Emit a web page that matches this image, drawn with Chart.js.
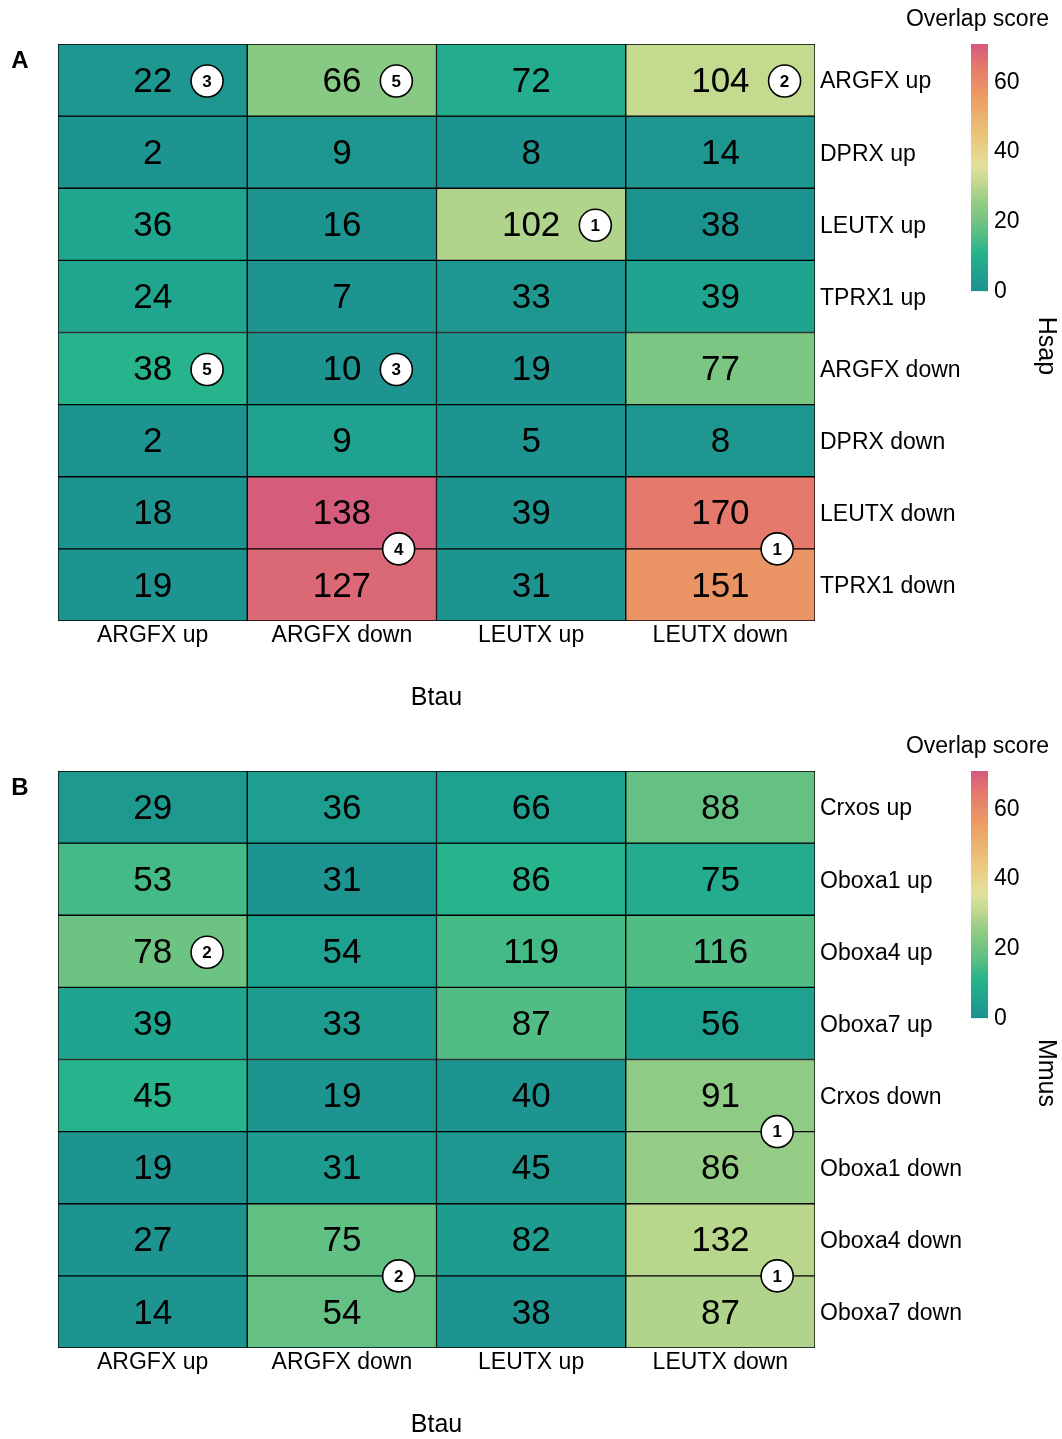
<!DOCTYPE html>
<html>
<head>
<meta charset="utf-8">
<title>Overlap of regulated genes: Btau vs Hsap / Mmus</title>
<script src="https://cdn.jsdelivr.net/npm/chart.js@4.4.1/dist/chart.umd.min.js"></script>
<style>
  html, body { margin: 0; padding: 0; background: #fff; overflow: hidden; }
  #page { position: relative; width: 1062px; height: 1439px; overflow: hidden; }
  #page canvas { position: absolute; }
</style>
</head>
<body>
<div id="page">
  <canvas id="heatA" width="1062" height="713" style="left:0;top:0"></canvas>
  <canvas id="barA" width="162" height="311" style="left:900px;top:0"></canvas>
  <canvas id="heatB" width="1062" height="713" style="left:0;top:727px"></canvas>
  <canvas id="barB" width="162" height="311" style="left:900px;top:727px"></canvas>
</div>
<script>
const FONT = '"Liberation Sans", Arial, Helvetica, sans-serif';
Chart.defaults.font.family = FONT;
Chart.defaults.color = '#000';

// Btau gene sets (columns, shared by both panels)
const btauCols = ['ARGFX up', 'ARGFX down', 'LEUTX up', 'LEUTX down'];

// Panel A: Hsap gene sets (rows)
const hsapRows = ['ARGFX up', 'DPRX up', 'LEUTX up', 'TPRX1 up',
                  'ARGFX down', 'DPRX down', 'LEUTX down', 'TPRX1 down'];
// number of shared genes in each cell
const hsapCounts = [
  [22, 66, 72, 104],
  [2, 9, 8, 14],
  [36, 16, 102, 38],
  [24, 7, 33, 39],
  [38, 10, 19, 77],
  [2, 9, 5, 8],
  [18, 138, 39, 170],
  [19, 127, 31, 151]
];
// overlap score of each cell (fill colour)
const hsapScores = [
  [2, 23.5, 8.5, 31.5],
  [1, 2, 1, 2],
  [6.5, 1, 29, 0.5],
  [6.5, 1, 2, 6],
  [11, 1, 1, 21.5],
  [1, 5.5, 1, 2],
  [1, 70.5, 1, 64.5],
  [1, 68, 1, 58]
];
// ranked cells; span 2 marks a rank shared by a row and the row below it
const hsapRanks = [
  { row: 0, col: 0, rank: 3 },
  { row: 0, col: 1, rank: 5 },
  { row: 0, col: 3, rank: 2 },
  { row: 2, col: 2, rank: 1 },
  { row: 4, col: 0, rank: 5 },
  { row: 4, col: 1, rank: 3 },
  { row: 6, col: 1, rank: 4, span: 2 },
  { row: 6, col: 3, rank: 1, span: 2 }
];

// Panel B: Mmus gene sets (rows)
const mmusRows = ['Crxos up', 'Oboxa1 up', 'Oboxa4 up', 'Oboxa7 up',
                  'Crxos down', 'Oboxa1 down', 'Oboxa4 down', 'Oboxa7 down'];
const mmusCounts = [
  [29, 36, 66, 88],
  [53, 31, 86, 75],
  [78, 54, 119, 116],
  [39, 33, 87, 56],
  [45, 19, 40, 91],
  [19, 31, 45, 86],
  [27, 75, 82, 132],
  [14, 54, 38, 87]
];
const mmusScores = [
  [2.5, 4, 5, 18.5],
  [14.5, 1, 11, 8.5],
  [19.5, 5, 14.5, 16],
  [6, 3, 16, 5],
  [11, 1, 1, 24.5],
  [1, 3, 2, 25.5],
  [1, 18, 3.5, 30],
  [1, 18.5, 1, 29]
];
const mmusRanks = [
  { row: 2, col: 0, rank: 2 },
  { row: 4, col: 3, rank: 1, span: 2 },
  { row: 6, col: 1, rank: 2, span: 2 },
  { row: 6, col: 3, rank: 1, span: 2 }
];

// colour scale for the overlap score
const scoreTicks = [0, 20, 40, 60];
const scoreMax = 71;
const paletteStops = [
  [0, '#1c918f'], [6, '#1fa48f'], [11, '#27b38b'], [16, '#51bd85'],
  [21, '#78c581'], [26, '#98cd86'], [31, '#c0d98e'], [36, '#e3e19c'],
  [45, '#ebc477'], [55, '#eca064'], [64, '#e57b6b'], [71, '#d45a7c']
];

function hexToRgb(h) {
  const n = parseInt(h.slice(1), 16);
  return [(n >> 16) & 255, (n >> 8) & 255, n & 255];
}
function scoreColor(v) {
  const s = paletteStops;
  if (v <= s[0][0]) return s[0][1];
  for (let i = 1; i < s.length; i++) {
    if (v <= s[i][0]) {
      const t = (v - s[i - 1][0]) / (s[i][0] - s[i - 1][0]);
      const a = hexToRgb(s[i - 1][1]), b = hexToRgb(s[i][1]);
      return 'rgb(' + a.map((c, k) => Math.round(c + (b[k] - c) * t)).join(',') + ')';
    }
  }
  return s[s.length - 1][1];
}

// cell numbers, rank badges, panel letter and species strip
function overlayPlugin(counts, ranks, letter, species) {
  return {
    id: 'overlay',
    afterDraw(chart) {
      const { ctx, scales: { x, y } } = chart;
      ctx.save();
      ctx.textAlign = 'center';
      ctx.textBaseline = 'middle';
      ctx.fillStyle = '#000';
      ctx.font = '35px ' + FONT;
      counts.forEach((row, r) => row.forEach((n, c) => {
        ctx.fillText(String(n), x.getPixelForTick(c), y.getPixelForValue(r + 0.5) + 2);
      }));

      const colW = x.getPixelForTick(1) - x.getPixelForTick(0);
      ranks.forEach(b => {
        const cx = x.getPixelForTick(b.col);
        let bx, by;
        if (b.span === 2) {
          by = y.getPixelForValue(b.row + 1);
          bx = cx + colW * 0.3;
        } else {
          by = y.getPixelForValue(b.row + 0.5) + 1;
          ctx.font = '35px ' + FONT;
          bx = cx + ctx.measureText(String(counts[b.row][b.col])).width / 2 + 35;
        }
        ctx.beginPath();
        ctx.arc(bx, by, 16, 0, Math.PI * 2);
        ctx.fillStyle = '#fff';
        ctx.fill();
        ctx.lineWidth = 1.6;
        ctx.strokeStyle = '#000';
        ctx.stroke();
        ctx.fillStyle = '#000';
        ctx.font = 'bold 17px ' + FONT;
        ctx.fillText(String(b.rank), bx, by + 1);
      });

      ctx.font = 'bold 24px ' + FONT;
      ctx.fillText(letter, 20, 61);

      ctx.translate(1046, 346);
      ctx.rotate(Math.PI / 2);
      ctx.font = '25px ' + FONT;
      ctx.fillText(species, 0, 0);
      ctx.restore();
    }
  };
}

function makeHeatmap(canvasId, rows, counts, scores, ranks, letter, species) {
  const datasets = rows.map((name, r) => ({
    label: name,
    data: btauCols.map(() => [r, r + 1]),
    backgroundColor: scores[r].map(scoreColor),
    borderColor: '#000',
    borderWidth: 1,
    borderSkipped: false,
    grouped: false,
    barPercentage: 1,
    categoryPercentage: 1
  }));
  return new Chart(document.getElementById(canvasId), {
    type: 'bar',
    data: { labels: btauCols, datasets },
    options: {
      responsive: false,
      animation: false,
      events: [],
      layout: { padding: { left: 58, top: 44, right: 87, bottom: 0 } },
      plugins: { legend: { display: false }, tooltip: { enabled: false } },
      scales: {
        x: {
          type: 'category',
          position: 'bottom',
          grid: { display: false, drawTicks: false },
          border: { display: false },
          ticks: { padding: 1, font: { size: 23 }, color: '#000', maxRotation: 0, autoSkip: false },
          title: { display: true, text: 'Btau', font: { size: 25 }, color: '#000', padding: 0 },
          afterFit: s => { s.height = 92; }
        },
        y: {
          type: 'linear',
          position: 'right',
          min: 0,
          max: rows.length,
          reverse: true,
          grid: { display: false, drawTicks: false },
          border: { display: false },
          ticks: {
            padding: 5, font: { size: 23 }, color: '#000', autoSkip: false, labelOffset: 2,
            callback: v => rows[Math.floor(v)]
          },
          afterBuildTicks: s => { s.ticks = rows.map((_, i) => ({ value: i + 0.5 })); },
          afterFit: s => { s.width = 160; }
        }
      }
    },
    plugins: [overlayPlugin(counts, ranks, letter, species)]
  });
}

function makeScoreBar(canvasId) {
  return new Chart(document.getElementById(canvasId), {
    type: 'bar',
    data: {
      labels: ['Overlap score'],
      datasets: [{
        data: [[0, scoreMax]],
        backgroundColor: (c) => {
          const chart = c.chart;
          if (!chart.chartArea) return paletteStops[0][1];
          const ys = chart.scales.y;
          const g = chart.ctx.createLinearGradient(0, ys.getPixelForValue(0), 0, ys.getPixelForValue(scoreMax));
          paletteStops.forEach(([v, col]) => g.addColorStop(v / scoreMax, col));
          return g;
        },
        borderWidth: 0,
        barPercentage: 1,
        categoryPercentage: 1
      }]
    },
    options: {
      responsive: false,
      animation: false,
      events: [],
      layout: { padding: { left: 71, top: 44, right: 0, bottom: 9 } },
      plugins: { legend: { display: false }, tooltip: { enabled: false } },
      scales: {
        x: { display: false },
        y: {
          position: 'right',
          min: 0,
          max: scoreMax,
          grid: { display: false, drawTicks: false },
          border: { display: false },
          ticks: { padding: 6, font: { size: 23 }, color: '#000' },
          afterBuildTicks: s => { s.ticks = scoreTicks.map(v => ({ value: v })); },
          afterFit: s => { s.width = 74; }
        }
      }
    },
    plugins: [{
      id: 'scoreTitle',
      afterDraw(chart) {
        const { ctx, chartArea } = chart;
        ctx.save();
        ctx.font = '23px ' + FONT;
        ctx.fillStyle = '#000';
        ctx.textAlign = 'center';
        ctx.textBaseline = 'middle';
        ctx.fillText('Overlap score', (chartArea.left + chartArea.right) / 2 - 2, 20);
        ctx.restore();
      }
    }]
  });
}

makeHeatmap('heatA', hsapRows, hsapCounts, hsapScores, hsapRanks, 'A', 'Hsap');
makeScoreBar('barA');
makeHeatmap('heatB', mmusRows, mmusCounts, mmusScores, mmusRanks, 'B', 'Mmus');
makeScoreBar('barB');
</script>
</body>
</html>
